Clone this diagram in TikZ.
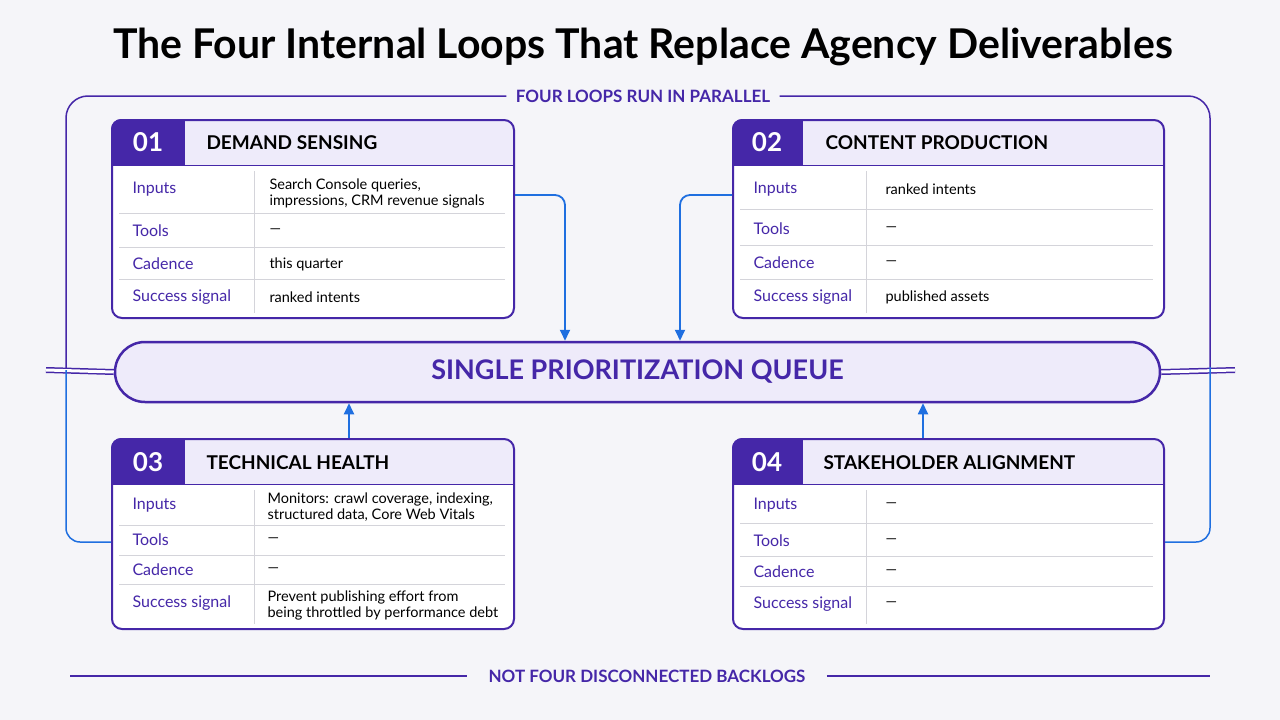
\documentclass[tikz,border=0pt]{standalone}
\usepackage{fontspec}
\setmainfont{Lato}
\usetikzlibrary{arrows.meta,positioning}
\definecolor{ink}{HTML}{4527A8}
\definecolor{hdr}{HTML}{EEEBFA}
\definecolor{bg}{HTML}{F5F5F9}
\definecolor{flow}{HTML}{1F6FE0}
\definecolor{rulegray}{HTML}{D4D4DA}
\tikzset{
  card/.style={draw=ink, line width=2pt, rounded corners=10pt, anchor=north west, inner sep=0pt},
  num/.style={text=white, font=\bfseries\fontsize{26}{26}\selectfont, anchor=center},
  ttl/.style={font=\bfseries\fontsize{19}{19}\selectfont, anchor=west},
  lbl/.style={text=ink, font=\fontsize{16}{16}\selectfont, anchor=west},
  val/.style={font=\fontsize{14.5}{16}\selectfont, anchor=west, align=left},
  rowrule/.style={draw=rulegray, line width=1pt},
  frame/.style={draw=ink, line width=1.5pt},
  link/.style={draw=flow, line width=1.8pt, rounded corners=10pt, -{Triangle[length=11pt,width=10pt]}},
  loopback/.style={draw=flow, line width=1.5pt, rounded corners=14pt},
  bandlabel/.style={text=ink, font=\bfseries\fontsize{17}{17}\selectfont}
}
% card frame: name, x, y, width, height, number cell width, column x
\newcommand{\loopcard}[7]{%
  \begin{scope}
    \clip[rounded corners=10pt] (#2,#3) rectangle ++(#4,#5);
    \fill[white] (#2,#3) rectangle ++(#4,#5);
    \fill[hdr] (#2,#3) rectangle ++(#4,46);
    \fill[ink] (#2,#3) rectangle ++(#6,46);
  \end{scope}
  \draw[ink, line width=1pt] (#2,#3+46) -- ++(#4,0);
  \node[card, minimum width=#4pt, minimum height=#5pt] (#1) at (#2,#3) {};
}
\begin{document}
\begin{tikzpicture}[x=1pt,y=1pt,yscale=-1]
  \useasboundingbox[fill=bg] (0,0) rectangle (1280,720);

  % title
  \node[font=\bfseries\fontsize{41}{41}\selectfont] (title) at (643,47) {The Four Internal Loops That Replace Agency Deliverables};

  % outer frame
  \node[bandlabel] (top) at (643,96) {FOUR LOOPS RUN IN PARALLEL};
  \draw[frame, rounded corners=22pt] ([xshift=-6pt]top.west) -- (66,96) -- (66,370);
  \draw[frame, rounded corners=22pt] ([xshift=6pt]top.east) -- (1210,96) -- (1210,367);

  % queue
  \node[draw=ink, line width=2.5pt, fill=hdr, rounded corners=30pt, minimum width=1045pt, minimum height=60pt,
        text=ink, font=\bfseries\fontsize{27}{27}\selectfont] (q) at (637.5,372) {SINGLE PRIORITIZATION QUEUE};
  \draw[frame, double distance=3pt] (46,370) -- (q.west);
  \draw[frame, double distance=3pt] (q.east) -- (1235,370);

  % card 01
  \loopcard{c1}{111}{119}{402}{198}{74}{254}
  \node[num] (n1) at (148,142) {01};
  \node[ttl] (t1) at (203,143) {DEMAND SENSING};
  \draw[rowrule] (254,171) -- (254,313);
  \foreach \yy in {213,247,279} \draw[rowrule] (119,\yy) -- (505,\yy);
  \node[lbl] (l11) at (129,189) {Inputs};
  \node[lbl] (l12) at (129,231) {Tools};
  \node[lbl] (l13) at (129,264) {Cadence};
  \node[lbl] (l14) at (129,297) {Success signal};
  \node[val] (v11) at (266,193) {Search Console queries,\\impressions, CRM revenue signals};
  \node[val] (v12) at (266,231) {—};
  \node[val] (v13) at (266,264) {this quarter};
  \node[val] (v14) at (266,297) {ranked intents};

  % card 02
  \loopcard{c2}{732}{119}{431}{198}{71}{866}
  \node[num] (n2) at (767,142) {02};
  \node[ttl] (t2) at (822,143) {CONTENT PRODUCTION};
  \draw[rowrule] (866,171) -- (866,313);
  \foreach \yy in {209,245,279} \draw[rowrule] (740,\yy) -- (1153,\yy);
  \node[lbl] (l21) at (750,189) {Inputs};
  \node[lbl] (l22) at (750,229) {Tools};
  \node[lbl] (l23) at (750,263) {Cadence};
  \node[lbl] (l24) at (750,297) {Success signal};
  \node[val] (v21) at (882,189) {ranked intents};
  \node[val] (v22) at (882,229) {—};
  \node[val] (v23) at (882,263) {—};
  \node[val] (v24) at (882,297) {published assets};

  % card 03
  \loopcard{c3}{111}{438}{402}{190}{74}{254}
  \node[num] (n3) at (148,462) {03};
  \node[ttl] (t3) at (203,463) {TECHNICAL HEALTH};
  \draw[rowrule] (254,490) -- (254,624);
  \foreach \yy in {525,555,584} \draw[rowrule] (119,\yy) -- (505,\yy);
  \node[lbl] (l31) at (129,505) {Inputs};
  \node[lbl] (l32) at (129,540) {Tools};
  \node[lbl] (l33) at (129,570) {Cadence};
  \node[lbl] (l34) at (129,603) {Success signal};
  \node[val] (v31) at (264,507) {Monitors: crawl coverage, indexing,\\structured data, Core Web Vitals};
  \node[val] (v32) at (264,540) {—};
  \node[val] (v33) at (264,570) {—};
  \node[val] (v34) at (264,605) {Prevent publishing effort from\\being throttled by performance debt};

  % card 04
  \loopcard{c4}{732}{438}{431}{190}{71}{866}
  \node[num] (n4) at (767,462) {04};
  \node[ttl] (t4) at (820,463) {STAKEHOLDER ALIGNMENT};
  \draw[rowrule] (866,490) -- (866,624);
  \foreach \yy in {523,556,586} \draw[rowrule] (740,\yy) -- (1153,\yy);
  \node[lbl] (l41) at (750,505) {Inputs};
  \node[lbl] (l42) at (750,541) {Tools};
  \node[lbl] (l43) at (750,572) {Cadence};
  \node[lbl] (l44) at (750,604) {Success signal};
  \node[val] (v41) at (882,505) {—};
  \node[val] (v42) at (882,541) {—};
  \node[val] (v43) at (882,572) {—};
  \node[val] (v44) at (882,604) {—};

  % links into the queue
  \draw[link] ([yshift=76pt]c1.north east) -| ([xshift=-72.5pt]q.north);
  \draw[link] ([yshift=76pt]c2.north west) -| ([xshift=42.5pt]q.north);
  \draw[link] ([xshift=36pt]c3.north) -- ([xshift=36pt]c3.north |- q.south);
  \draw[link] ([xshift=-25.5pt]c4.north) -- ([xshift=-25.5pt]c4.north |- q.south);

  % loop back
  \draw[loopback] (66,370) -- (66,542) -- ([yshift=104pt]c3.north west);
  \draw[loopback] (1210,367) -- (1210,542) -- ([yshift=104pt]c4.north east);

  % bottom caption
  \node[bandlabel] (bot) at (647,676) {NOT FOUR DISCONNECTED BACKLOGS};
  \draw[frame] (70,676) -- ([xshift=-18pt]bot.west);
  \draw[frame] ([xshift=18pt]bot.east) -- (1210,676);
\end{tikzpicture}
\end{document}
